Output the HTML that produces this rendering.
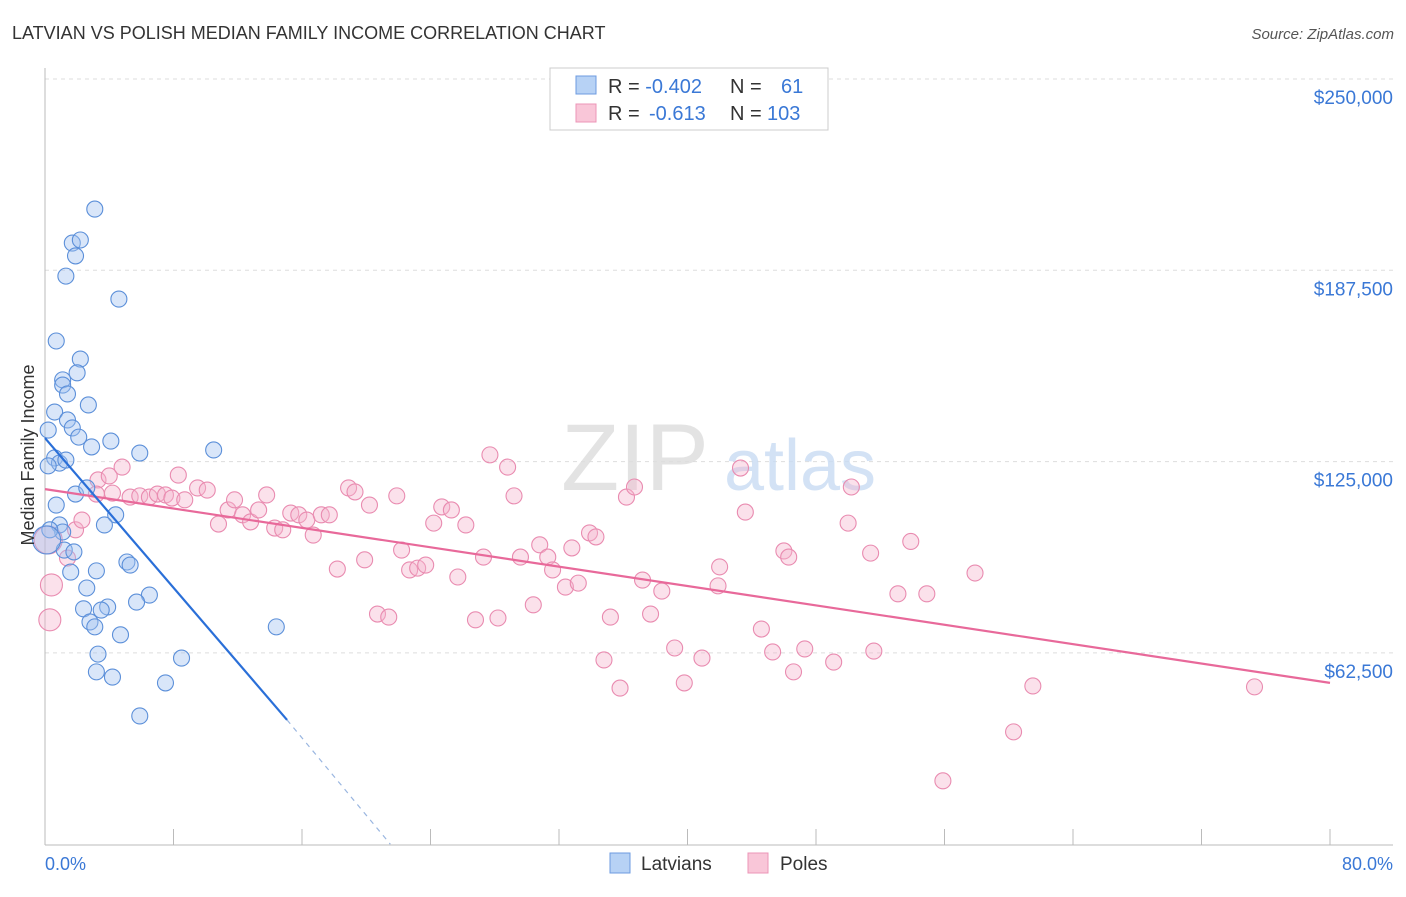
<!DOCTYPE html>
<html><head><meta charset="utf-8"><style>
body{margin:0;background:#fff;font-family:"Liberation Sans",sans-serif}
svg text{font-family:"Liberation Sans",sans-serif}
</style></head><body>
<svg width="1406" height="892" xmlns="http://www.w3.org/2000/svg">
<text x="12" y="39" font-size="18" fill="#333">LATVIAN VS POLISH MEDIAN FAMILY INCOME CORRELATION CHART</text>
<text x="1394" y="39" font-size="15" fill="#555" font-style="italic" text-anchor="end">Source: ZipAtlas.com</text>
<g id="grid"></g>
<g><text x="635" y="490" font-size="95" fill="#ddd" font-family="Liberation Serif" text-anchor="middle" opacity="0.8">ZIP</text><text x="800" y="490" font-size="72" fill="#c9dcf3" text-anchor="middle" opacity="0.8">atlas</text></g>
<g id="axes"></g>
<g id="pts"></g>
<g id="trend"></g>
<text x="0" y="0" transform="translate(34,455) rotate(-90)" font-size="18" fill="#333" text-anchor="middle">Median Family Income</text>
<text x="45" y="870" font-size="18" fill="#3a78d6">0.0%</text>
<text x="1393" y="870" font-size="18" fill="#3a78d6" text-anchor="end">80.0%</text>
<g>
<rect x="550" y="68" width="278" height="62" fill="#fff" stroke="#ccc"/>
<rect x="576" y="76" width="20" height="18" fill="#b7d2f5" stroke="#6c9be0"/>
<rect x="576" y="104" width="20" height="18" fill="#f9c6d8" stroke="#ec95b7"/>
<text x="608" y="93" font-size="20" fill="#333">R = <tspan fill="#3a78d6">-0.402</tspan><tspan x="730">N = </tspan><tspan x="781" fill="#3a78d6">61</tspan></text>
<text x="608" y="120" font-size="20" fill="#333">R = <tspan x="649" fill="#3a78d6">-0.613</tspan><tspan x="730">N = </tspan><tspan x="767" fill="#3a78d6">103</tspan></text>
</g>
<g>
<rect x="610" y="853" width="20" height="20" fill="#b7d2f5" stroke="#6c9be0"/>
<text x="641" y="870" font-size="19" fill="#333">Latvians</text>
<rect x="748" y="853" width="20" height="20" fill="#f9c6d8" stroke="#ec95b7"/>
<text x="780" y="870" font-size="19" fill="#333">Poles</text>
</g>
</svg>
<script>
const yTicks=[62500,125000,187500,250000];
const yTickLabels=["$62,500","$125,000","$187,500","$250,000"];
const xTicks=[0,8,16,24,32,40,48,56,64,72,80];
const latX=[3.1,1.7,2.2,1.9,1.3,4.6,0.7,2.2,1.1,2.0,1.1,1.4,2.7,0.6,1.4,1.7,0.2,2.1,2.9,4.1,10.5,5.9,0.6,0.9,0.2,1.9,2.6,4.4,3.7,0.9,1.1,0.3,1.2,1.8,5.1,5.3,1.6,3.2,2.6,6.5,5.7,2.4,3.9,3.5,2.8,3.1,14.4,4.7,3.3,8.5,3.2,4.2,7.5,5.9,1.3,0.7,0.1];
const latY=[207.5,196.4,197.4,192.2,185.6,178.1,164.4,158.5,151.7,154.0,150.0,147.1,143.5,141.2,138.6,136.0,135.3,133.0,129.8,131.7,128.8,127.8,126.2,124.5,123.6,114.4,116.4,107.6,104.3,104.3,102.0,102.7,96.1,95.5,92.2,91.2,88.9,89.3,83.7,81.4,79.1,76.9,77.5,76.5,72.6,71.0,71.0,68.4,62.1,60.8,56.3,54.6,52.7,41.9,125.5,110.8,99.4];
const polX=[0.2,0.3,0.4,1.4,1.9,2.3,3.3,4.0,4.8,3.2,4.2,5.3,5.9,6.5,7.0,7.5,7.9,8.3,8.7,9.5,10.1,10.8,11.4,11.8,12.3,12.8,13.3,13.8,14.3,14.8,15.3,15.8,16.3,16.7,17.2,17.7,18.2,18.9,19.3,19.9,20.2,20.7,21.4,21.9,22.2,22.7,23.2,23.7,24.2,24.7,25.3,25.7,26.2,26.8,27.3,27.7,28.2,28.8,29.2,29.6,30.4,30.8,31.3,31.6,32.4,32.8,33.2,33.9,34.3,34.8,35.2,35.8,36.2,36.7,37.2,37.7,38.4,39.2,39.8,40.9,42.0,41.9,43.3,43.6,44.6,45.3,46.0,46.3,46.6,47.3,49.1,50.0,50.2,51.4,51.6,53.1,53.9,54.9,55.9,57.9,60.3,61.5,75.3];
const polY=[99.4,73.3,84.7,93.5,102.7,105.9,119.0,120.3,123.2,114.4,114.7,113.4,113.8,113.4,114.4,114.1,113.1,120.6,112.5,116.4,115.7,104.6,109.2,112.5,107.6,105.3,109.2,114.1,103.3,102.7,108.2,107.6,105.9,101.0,107.6,107.6,89.9,116.4,115.1,92.9,110.8,75.2,74.2,113.8,96.1,89.6,90.2,91.2,104.9,110.2,109.2,87.3,104.3,73.3,93.8,127.2,73.9,123.2,113.8,93.8,78.2,97.8,93.8,89.6,84.0,96.8,85.3,101.7,100.4,60.2,74.2,51.0,113.4,116.7,86.3,75.2,82.7,64.1,52.7,60.8,90.6,84.4,122.9,108.5,70.3,62.8,95.8,93.8,56.3,63.8,59.5,104.9,116.7,95.1,63.1,81.8,98.9,81.8,20.7,88.6,36.7,51.7,51.4];
const latTrend=[[0,132.7],[15.07,40.6]];
const latTrendDash=[[15.07,40.6],[21.5,0]];
const polTrend=[[0,116.0],[80,52.7]];
const NS='http://www.w3.org/2000/svg';
const sx=p=>45+p*1285/80;
const sy=v=>79+(250000-v)*191.3/62500;
function mk(tag,attrs,parent){const e=document.createElementNS(NS,tag);for(const k in attrs)e.setAttribute(k,attrs[k]);parent.appendChild(e);return e;}
const grid=document.getElementById('grid'),axes=document.getElementById('axes'),pts=document.getElementById('pts'),tr=document.getElementById('trend');
yTicks.forEach((t,i)=>{
 const l=mk('line',{x1:45,x2:1393,y1:sy(t),y2:sy(t),stroke:'#ddd','stroke-dasharray':'4,4'},grid);
 
 
 const tx=mk('text',{x:1393,y:sy(t)+25,'font-size':19,fill:'#3a78d6','text-anchor':'end'},grid);
 tx.textContent=yTickLabels[i];
 
 
});
let a=mk('line',{x1:45,x2:45,y1:68,y2:845,stroke:'#bbb'},axes);


a=mk('line',{x1:45,x2:1393,y1:845,y2:845,stroke:'#bbb'},axes);


xTicks.forEach(t=>{
 const l=mk('line',{x1:sx(t),x2:sx(t),y1:829,y2:845,stroke:'#bbb'},axes);
 
 
});
function dots(X,Y,fill,stroke,name){
 X.forEach((x,i)=>{
  let r=8;
  if(x<0.25&&Y[i]>95&&Y[i]<105)r=14;
  else if(x<0.45&&Y[i]<86)r=11;
  const c=mk('circle',{cx:sx(x),cy:sy(Y[i]*1000),r:r,fill:fill,'fill-opacity':0.4,stroke:stroke,'stroke-width':1.1},pts);
  
  
 });
}
dots(polX,polY,'#f6b3cc','#e98bb0','pole-point');
dots(latX,latY,'#9fc1ef','#5b8fd9','latvian-point');
function line(p,col,w,dash,name){
 const l=mk('line',{x1:sx(p[0][0]),y1:sy(p[0][1]*1000),x2:sx(p[1][0]),y2:sy(p[1][1]*1000),stroke:col,'stroke-width':w},tr);
 if(dash)l.setAttribute('stroke-dasharray',dash);
 
 
}
line(polTrend,'#e8699a',2.2,null,'poles-trend-line');
line(latTrend,'#2a6fd8',2.2,null,'latvians-trend-line');
line(latTrendDash,'#9ab6e0',1.2,'5,5','latvians-trend-extension');
</script>
</body></html>
